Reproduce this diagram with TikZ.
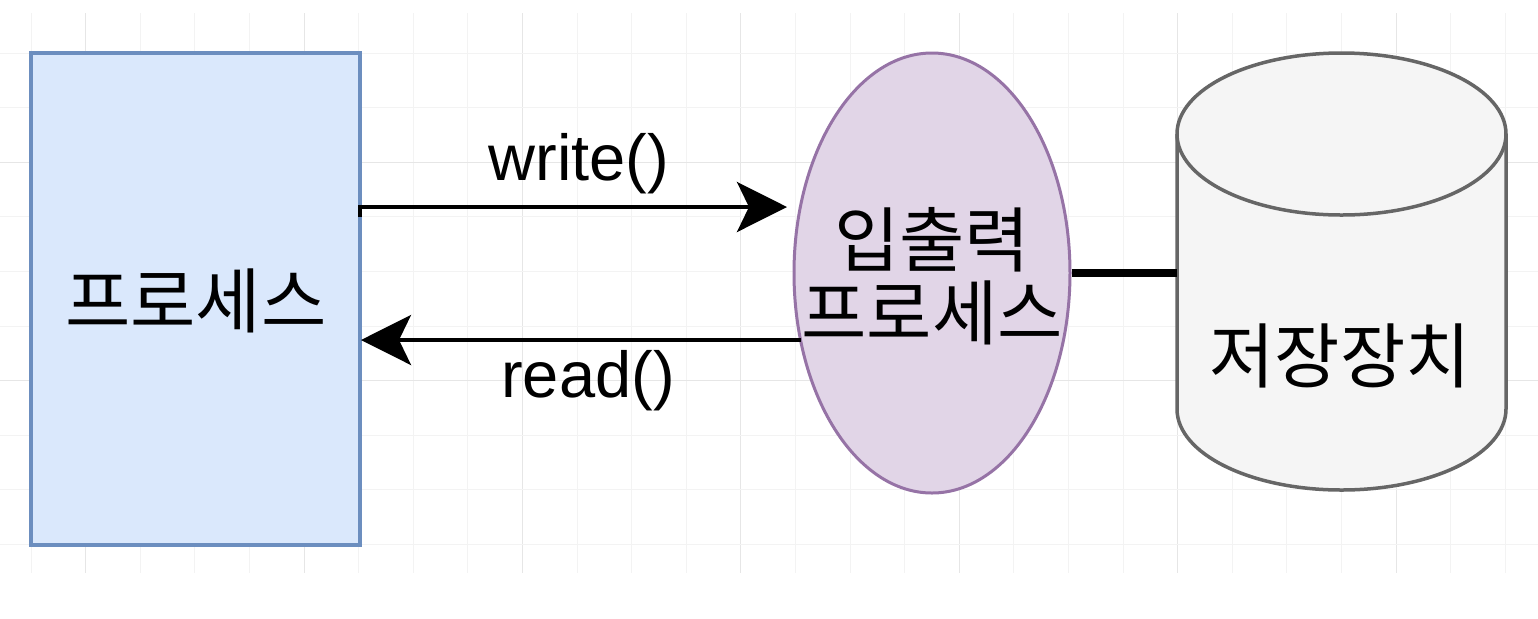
\documentclass[tikz,border=0pt]{standalone}
\usepackage{fontspec}
\setmainfont{Liberation Sans}
\newfontfamily\kr{Noto Sans CJK KR}
\usetikzlibrary{shapes.geometric,arrows.meta}
\definecolor{gridminor}{HTML}{F3F3F3}
\definecolor{gridmajor}{HTML}{E6E6E6}
\definecolor{procfill}{HTML}{DAE8FC}
\definecolor{procdraw}{HTML}{6C8EBF}
\definecolor{iofill}{HTML}{E1D5E7}
\definecolor{iodraw}{HTML}{9673A6}
\definecolor{stfill}{HTML}{F5F5F5}
\definecolor{stdraw}{HTML}{666666}
\tikzset{
  procbox/.style={draw=procdraw, fill=procfill, line width=2pt, minimum width=164.5pt, minimum height=246pt, inner sep=0pt},
  ioell/.style={ellipse, draw=iodraw, fill=iofill, line width=1.5pt, minimum width=138pt, minimum height=220pt, inner sep=0pt},
  storebox/.style={minimum width=164.5pt, minimum height=218.5pt, inner sep=0pt},
  krtext/.style={font=\kr\fontsize{35.5pt}{36.5pt}\selectfont, align=center, inner sep=0pt, text=black},
  lbltext/.style={font=\fontsize{32.5pt}{38pt}\selectfont, inner sep=0pt, text=black},
  arr/.style={line width=2pt, -{Stealth[length=25pt, width=25pt, inset=6pt]}},
  gridmin/.style={draw=gridminor, line width=0.5pt},
  gridmaj/.style={draw=gridmajor, line width=0.5pt},
}
\begin{document}
\begin{tikzpicture}[x=0.5pt, y=-0.5pt]
\useasboundingbox (0,0) rectangle (1538,618);
\fill[white] (0,0) rectangle (1538,618);
% grid
\foreach \k in {0,...,27} {
  \pgfmathsetmacro{\gx}{31+54.6*\k}
  \pgfmathtruncatemacro{\m}{mod(\k+3,4)}
  \ifnum\m=0 \draw[gridmaj] (\gx,13) -- (\gx,573); \else \draw[gridmin] (\gx,13) -- (\gx,573); \fi
}
\foreach \k in {0,...,9} {
  \pgfmathsetmacro{\gy}{53+54.6*\k}
  \pgfmathtruncatemacro{\m}{mod(\k+2,4)}
  \ifnum\m=0 \draw[gridmaj] (0,\gy) -- (1538,\gy); \else \draw[gridmin] (0,\gy) -- (1538,\gy); \fi
}
% nodes
\node[procbox] (proc) at (195.5,299) {};
\node[krtext] (proctext) at (196,301) {프로세스};
\node[ioell] (io) at (932,273) {};
\node[krtext] (iotext) at (932,276) {입출력\\프로세스};
\node[storebox] (store) at (1341.5,271.5) {};
% cylinder
\draw[draw=stdraw, fill=stfill, line width=1.75pt]
  (1177,134) -- (1177,409) arc (180:0:164.5 and 81) -- (1506,134) arc (0:-180:164.5 and 81) -- cycle;
\draw[draw=stdraw, line width=1.75pt] (1177,134) arc (180:0:164.5 and 81);
\node[krtext] (storetext) at (1340,356) {저장장치};
% connectors
\coordinate (ws) at (360,217);
\coordinate (we) at (787,207);
\draw[arr] (ws) |- (we);
\coordinate (rs) at (800.5,340);
\coordinate (re) at (361,340);
\draw[arr] (rs) -- (re);
\draw[line width=4pt] (io.east) -- (io.east -| store.west);
% labels
\node[lbltext, anchor=base] (wlbl) at (579,180) {write()};
\node[lbltext, anchor=base] (rlbl) at (588,397) {read()};
\end{tikzpicture}
\end{document}
